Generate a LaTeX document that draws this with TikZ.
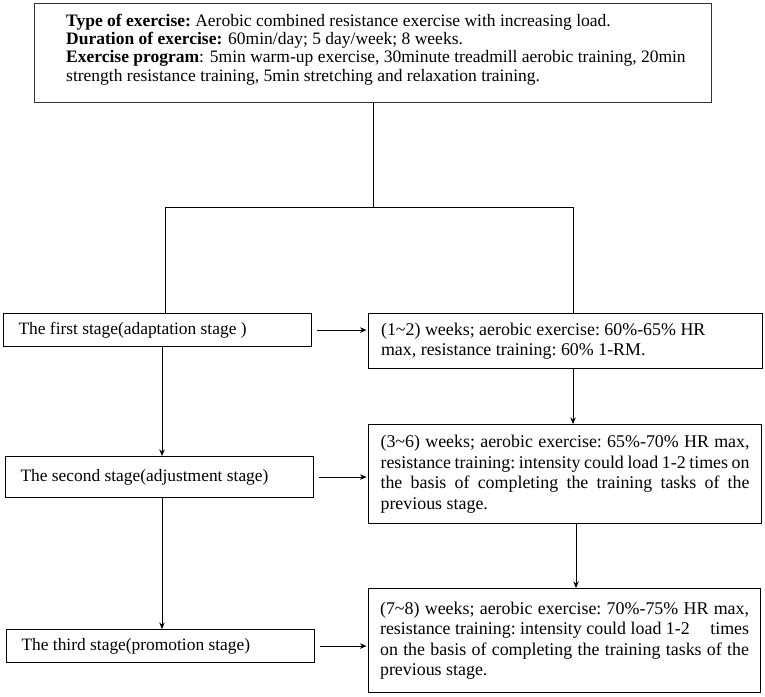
\documentclass[tikz,border=0pt]{standalone}
\usepackage{fontspec}
\setmainfont{Liberation Serif}
\usetikzlibrary{arrows.meta,calc}
\newcommand\natsp{\spaceskip=0pt\xspaceskip=0pt\frenchspacing}
\newcommand\jline[1]{\makebox[369pt][s]{\natsp #1}}
\begin{document}
\begin{tikzpicture}[x=1pt,y=-1pt,
  box/.style={draw=black, line width=1.1pt, anchor=north west, inner ysep=0pt},
  leftbox/.style={box, inner xsep=15pt, text width=278pt, align=left, font=\fontsize{17.4}{20.5}\selectfont},
  rightbox/.style={box, inner xsep=0pt, text width=369pt, align=left, font=\fontsize{17.9}{20.5}\selectfont},
  topbox/.style={draw=black!80, line width=1.3pt, anchor=north west, inner sep=0pt},
  txt/.style={inner sep=0pt, anchor=west, align=left},
  conn/.style={line width=1pt},
  arr/.style={line width=1pt, -{Stealth[length=6.5pt,width=5.5pt]}}]
\useasboundingbox (0,0) rectangle (765,696);
\fill[white] (0,0) rectangle (765,696);

% top box
\node[topbox, minimum width=677pt, minimum height=99pt] (top) at (34,3) {};
\node[txt, font=\fontsize{17.5}{18.4}\selectfont] (toptext) at (66,49.5) {\natsp
\textbf{Type of exercise:} Aerobic combined resistance exercise with increasing load.\\
\textbf{Duration of exercise:} 60min/day; 5 day/week; 8 weeks.\\
\textbf{Exercise program}: 5min warm-up exercise, 30minute treadmill aerobic training, 20min\\
strength resistance training, 5min stretching and relaxation training.};

% left column
\node[leftbox, minimum width=308pt, minimum height=33pt] (s1) at (3,313) {\natsp The first stage(adaptation stage )};
\node[leftbox, minimum width=307pt, minimum height=41pt] (s2) at (5,456) {\natsp The second stage(adjustment stage)};
\node[leftbox, minimum width=308pt, minimum height=33pt] (s3) at (6,629) {\natsp The third stage(promotion stage)};

% right column
\node[rightbox, minimum width=394pt, minimum height=55pt] (r1) at (368,313) {\natsp
(1\textasciitilde2) weeks; aerobic exercise: 60\%-65\% HR\\
max, resistance training: 60\% 1-RM.};
\node[rightbox, minimum width=393pt, minimum height=99pt] (r2) at (368,424) {%
\jline{(3\textasciitilde6) weeks; aerobic exercise: 65\%-70\% HR max,}\\
\jline{resistance training: intensity could load 1-2 times on}\\
\jline{the basis of completing the training tasks of the}\\
\natsp previous stage.};
\node[rightbox, minimum width=392pt, minimum height=104pt] (r3) at (368,588) {%
\jline{(7\textasciitilde8) weeks; aerobic exercise: 70\%-75\% HR max,}\\
\jline{resistance training: intensity could load 1-2\hfill times}\\
\jline{on the basis of completing the training tasks of the}\\
\natsp previous stage.};

% tree connectors
\coordinate (hm) at (top.south |- 0,207);
\coordinate (hl) at (165,207);
\coordinate (hr) at (573,207);
\draw[conn] (top.south) -- (hm);
\draw[conn] (hl |- s1.north) -- (hl) -- (hr) -- (hr |- r1.north);

% left vertical arrows
\coordinate (lx) at (162,0);
\draw[arr] (s1.south -| lx) -- (s2.north -| lx);
\draw[arr] (s2.south -| lx) -- (s3.north -| lx);

% right vertical arrows
\coordinate (rxa) at (573,0);
\coordinate (rxb) at (576,0);
\draw[arr] (r1.south -| rxa) -- (r2.north -| rxa);
\draw[arr] (r2.south -| rxb) -- (r3.north -| rxb);

% horizontal arrows
\draw[arr, shorten <=5pt, shorten >=1.5pt] (s1.east) -- (s1.east -| r1.west);
\draw[arr, shorten <=5pt, shorten >=1.5pt] (s2.east) -- (s2.east -| r2.west);
\draw[arr, shorten <=5pt, shorten >=1.5pt] (s3.east) -- (s3.east -| r3.west);
\end{tikzpicture}
\end{document}
